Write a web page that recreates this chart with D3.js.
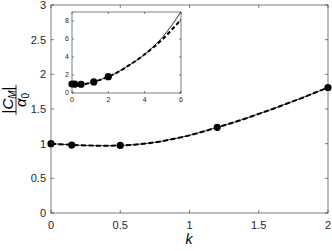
<!DOCTYPE html>
<html>
<head>
<meta charset="utf-8">
<script src="https://cdn.jsdelivr.net/npm/d3@7"></script>
<style>
body { margin:0; background:#fff; }
text { font-family: "Liberation Sans", Arial, sans-serif; }
</style>
</head>
<body>
<div id="chart"></div>
<script>
// curve samples
var kGrid = [0,0.1,0.2,0.3,0.4,0.5,0.6,0.7,0.8,0.9,1.0,1.1,1.2,1.3,1.4,1.5,1.6,1.7,1.8,1.9,2.0,2.5,3,3.5,4,4.5,5,5.5,6];
var solidVals = [1.0,0.988,0.978,0.972,0.97,0.975,0.985,1.005,1.035,1.075,1.12,1.175,1.235,1.295,1.36,1.43,1.5,1.575,1.65,1.73,1.81,2.3,2.9,3.55,4.3,5.2,6.25,7.55,9.05];
var dashedVals = [1.0,0.988,0.978,0.972,0.97,0.975,0.985,1.005,1.035,1.075,1.12,1.175,1.235,1.295,1.36,1.43,1.5,1.575,1.65,1.73,1.81,2.3,2.9,3.55,4.3,5.1,6.0,7.05,8.15];

// markers
var pointK = [0,0.15,0.5,1.2,2];
var pointVals = [1.0,0.98,0.975,1.235,1.81];

var mainXTicks = [0,0.5,1,1.5,2];
var mainYTicks = [0,0.5,1,1.5,2,2.5,3];
var insetXTicks = [0,2,4,6];
var insetYTicks = [0,2,4,6,8];

var W = 332, H = 251;
var axisColor = "#262626";

var svg = d3.select("#chart").append("svg")
    .attr("width", W)
    .attr("height", H);

var solidData = kGrid.map(function(k, i) { return {k:k, v:solidVals[i]}; });
var dashedData = kGrid.map(function(k, i) { return {k:k, v:dashedVals[i]}; });
var pointData = pointK.map(function(k, i) { return {k:k, v:pointVals[i]}; });

var drawPanel = function(box, xDomain, yDomain, xTicks, yTicks, opts)
{
    var x = d3.scaleLinear().domain(xDomain).range([box.left, box.right]);
    var y = d3.scaleLinear().domain(yDomain).range([box.bottom, box.top]);
    var g = svg.append("g");

    g.append("rect")
        .attr("x", box.left).attr("y", box.top)
        .attr("width", box.right-box.left).attr("height", box.bottom-box.top)
        .attr("fill", "white");

    var clipId = "clip" + opts.id;
    g.append("clipPath").attr("id", clipId)
        .append("rect")
        .attr("x", box.left).attr("y", box.top-5)
        .attr("width", box.right-box.left).attr("height", box.bottom-box.top+5);

    var inRange = function(d) { return d.k <= xDomain[1] + 1e-9; };
    var line = d3.line()
        .x(function(d) { return x(d.k); })
        .y(function(d) { return y(d.v); })
        .curve(d3.curveMonotoneX);

    var lines = g.append("g").attr("clip-path", "url(#" + clipId + ")");
    lines.append("path")
        .attr("d", line(solidData.filter(inRange)))
        .attr("fill", "none").attr("stroke", "black")
        .attr("stroke-width", 0.8);
    lines.append("path")
        .attr("d", line(dashedData.filter(inRange)))
        .attr("fill", "none").attr("stroke", "black")
        .attr("stroke-width", opts.dashW)
        .attr("stroke-dasharray", opts.dash);

    g.selectAll("circle.pt")
        .data(pointData)
        .enter()
        .append("circle")
        .attr("class", "pt")
        .attr("cx", function(d) { return x(d.k); })
        .attr("cy", function(d) { return y(d.v); })
        .attr("r", opts.r)
        .attr("fill", "black");

    // box and inward ticks on all sides
    var tl = opts.tickLen;
    var axes = g.append("g")
        .attr("stroke", axisColor)
        .attr("stroke-width", 0.6)
        .attr("fill", "none");
    axes.append("rect")
        .attr("x", box.left).attr("y", box.top)
        .attr("width", box.right-box.left).attr("height", box.bottom-box.top);
    xTicks.forEach(function(t) {
        axes.append("line").attr("x1", x(t)).attr("x2", x(t))
            .attr("y1", box.bottom).attr("y2", box.bottom-tl);
        axes.append("line").attr("x1", x(t)).attr("x2", x(t))
            .attr("y1", box.top).attr("y2", box.top+tl);
    });
    yTicks.forEach(function(t) {
        axes.append("line").attr("y1", y(t)).attr("y2", y(t))
            .attr("x1", box.left).attr("x2", box.left+tl);
        axes.append("line").attr("y1", y(t)).attr("y2", y(t))
            .attr("x1", box.right).attr("x2", box.right-tl);
    });

    g.selectAll("text.xt")
        .data(xTicks)
        .enter()
        .append("text")
        .attr("class", "xt")
        .attr("x", function(t) { return x(t); })
        .attr("y", box.bottom + opts.xLabOff)
        .attr("text-anchor", "middle")
        .attr("font-size", opts.fs)
        .attr("fill", axisColor)
        .text(function(t) { return String(t); });

    g.selectAll("text.yt")
        .data(yTicks)
        .enter()
        .append("text")
        .attr("class", "yt")
        .attr("x", box.left - opts.yLabOff)
        .attr("y", function(t) { return y(t); })
        .attr("dy", "0.35em")
        .attr("text-anchor", "end")
        .attr("font-size", opts.fs)
        .attr("fill", axisColor)
        .text(function(t) { return String(t); });
}

// main axes
drawPanel({left:51, right:328, top:5, bottom:213}, [0,2], [0,3], mainXTicks, mainYTicks,
    {id:"main", r:3.6, dash:"5,2.5", dashW:2, tickLen:3, fs:11, xLabOff:16, yLabOff:5});

// inset axes
drawPanel({left:72, right:181, top:12, bottom:93}, [0,6], [0,9], insetXTicks, insetYTicks,
    {id:"inset", r:3.6, dash:"4,2.5", dashW:2, tickLen:2, fs:7, xLabOff:9, yLabOff:3});

// x label
svg.append("text")
    .attr("x", 189)
    .attr("y", 244)
    .attr("text-anchor", "middle")
    .attr("font-family", "'Liberation Serif', serif")
    .attr("font-style", "italic")
    .attr("font-size", 14)
    .attr("fill", "black")
    .text("k");

// y label: |C_M| over alpha_0, rotated
var yl = svg.append("g")
    .attr("transform", "translate(16,100) rotate(-90)")
    .attr("font-family", "'Liberation Serif', serif")
    .attr("fill", "black");
var num = yl.append("text")
    .attr("x", 0).attr("y", -3)
    .attr("text-anchor", "middle")
    .attr("font-size", 15);
num.append("tspan").text("|");
num.append("tspan").attr("font-style", "italic").text("C");
num.append("tspan").attr("font-style", "italic").attr("font-size", 10).attr("dy", 3).text("M");
num.append("tspan").attr("dy", -3).text("|");
yl.append("line")
    .attr("x1", -15).attr("x2", 15)
    .attr("y1", 0).attr("y2", 0)
    .attr("stroke", "black").attr("stroke-width", 0.8);
var den = yl.append("text")
    .attr("x", 0).attr("y", 10)
    .attr("text-anchor", "middle")
    .attr("font-size", 15);
den.append("tspan").attr("font-style", "italic").text("\u03b1");
den.append("tspan").attr("font-size", 10).attr("dy", 3).text("0");
</script>
</body>
</html>
